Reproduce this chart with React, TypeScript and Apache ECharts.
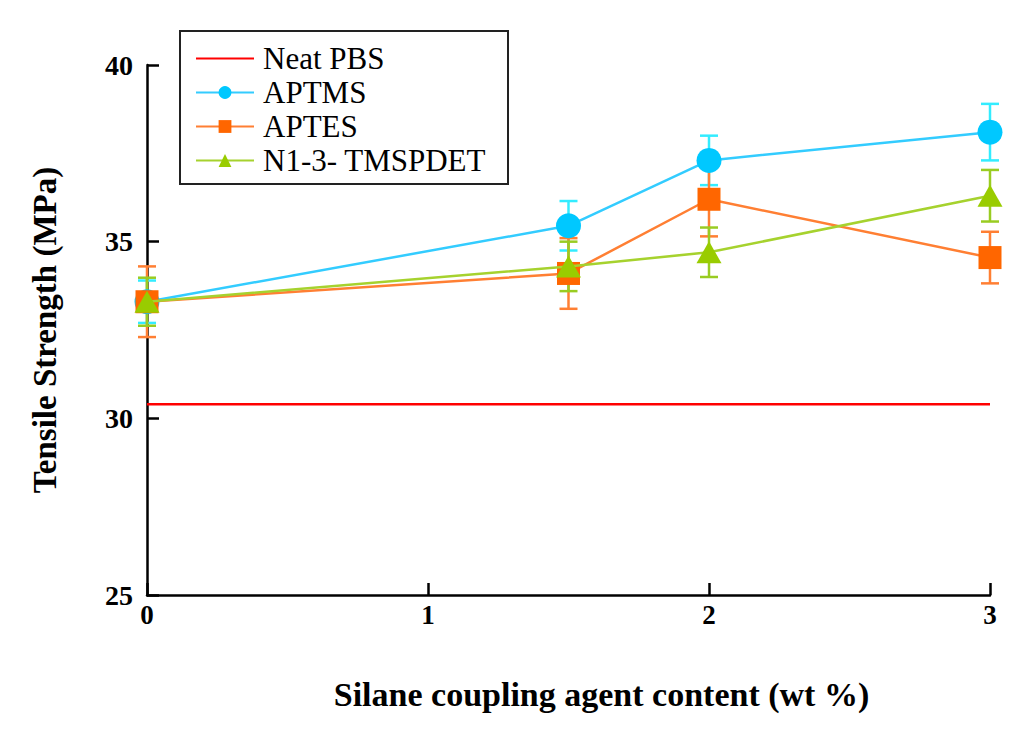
import React, { useEffect, useRef } from "react";
import * as echarts from "echarts";

const xValues = [0, 1.5, 2, 3];
const neatPBSValue = 30.4;
const neatPBSRange = [0, 3];
const aptms = [33.3, 35.45, 37.3, 38.1];
const aptmsErr = [0.6, 0.7, 0.7, 0.8];
const aptes = [33.3, 34.1, 36.2, 34.55];
const aptesErr = [1.0, 1.0, 1.05, 0.73];
const tmspdet = [33.3, 34.3, 34.7, 36.3];
const tmspdetErr = [0.68, 0.7, 0.7, 0.73];
const seriesNames = ["Neat PBS", "APTMS", "APTES", "N1-3- TMSPDET"];
const xTitle = "Silane coupling agent content (wt %)";
const yTitle = "Tensile Strength (MPa)";

const SERIF = "Liberation Serif";

function pairs(vals: number[]) {
  return xValues.map((x, i) => [x, vals[i]]);
}
function errData(vals: number[], errs: number[]) {
  return xValues.map((x, i) => [x, vals[i] - errs[i], vals[i] + errs[i]]);
}

function errSeries(name: string, vals: number[], errs: number[], color: string) {
  return {
    type: "custom",
    name,
    z: 1,
    data: errData(vals, errs),
    encode: { x: 0, y: [1, 2] },
    renderItem: (params: any, api: any) => {
      const x = api.value(0);
      const lo = api.coord([x, api.value(1)]);
      const hi = api.coord([x, api.value(2)]);
      const w = 9;
      const style = { stroke: color, lineWidth: 2.5 };
      return {
        type: "group",
        children: [
          { type: "line", shape: { x1: lo[0], y1: lo[1], x2: hi[0], y2: hi[1] }, style },
          { type: "line", shape: { x1: lo[0] - w, y1: lo[1], x2: lo[0] + w, y2: lo[1] }, style },
          { type: "line", shape: { x1: hi[0] - w, y1: hi[1], x2: hi[0] + w, y2: hi[1] }, style },
        ],
      };
    },
  };
}

export default function App() {
  const ref = useRef<HTMLDivElement>(null);
  useEffect(() => {
    if (!ref.current) return;
    const chart = echarts.init(ref.current, null, { renderer: "svg" });
    chart.setOption({
      animation: false,
      backgroundColor: "#ffffff",
      grid: { left: 147, right: 34, top: 65, bottom: 141 },
      xAxis: {
        type: "value",
        min: 0,
        max: 3,
        interval: 1,
        name: xTitle,
        nameLocation: "middle",
        nameGap: 82,
        nameTextStyle: { fontFamily: SERIF, fontWeight: "bold", fontSize: 34, color: "#000", padding: [0, 0, 0, 66] },
        axisLine: { show: true, lineStyle: { color: "#000", width: 2.5 } },
        axisTick: { show: true, inside: true, length: 12, lineStyle: { color: "#000", width: 2.5 } },
        axisLabel: { fontFamily: SERIF, fontWeight: "bold", fontSize: 27, color: "#000", margin: 6 },
        splitLine: { show: false },
      },
      yAxis: {
        type: "value",
        min: 25,
        max: 40,
        interval: 5,
        name: yTitle,
        nameLocation: "middle",
        nameGap: 86,
        nameTextStyle: { fontFamily: SERIF, fontWeight: "bold", fontSize: 33, color: "#000" },
        axisLine: { show: true, lineStyle: { color: "#000", width: 2.5 } },
        axisTick: { show: true, inside: true, length: 12, lineStyle: { color: "#000", width: 2.5 } },
        axisLabel: { fontFamily: SERIF, fontWeight: "bold", fontSize: 28, color: "#000", margin: 14 },
        splitLine: { show: false },
      },
      legend: {
        orient: "vertical",
        left: 190,
        top: 38,
        itemGap: 3,
        itemWidth: 58,
        itemHeight: 16,
        data: [
          { name: seriesNames[0], itemStyle: { opacity: 0 } },
          seriesNames[1],
          seriesNames[2],
          seriesNames[3],
        ],
        textStyle: { fontFamily: SERIF, fontSize: 31, color: "#000", lineHeight: 30, padding: [0, 0, 0, 4] },
      },
      graphic: [
        {
          type: "rect",
          shape: { x: 180, y: 31, width: 328, height: 153 },
          style: { fill: "none", stroke: "#222", lineWidth: 2 },
          z: 0,
        },
      ],
      series: [
        {
          type: "line",
          name: seriesNames[0],
          data: neatPBSRange.map((x) => [x, neatPBSValue]),
          symbol: "none",
          lineStyle: { color: "#ff0000", width: 2.5 },
          itemStyle: { color: "#ff0000" },
          z: 2,
        },
        errSeries("APTMS err", aptms, aptmsErr, "#33ecff"),
        errSeries("APTES err", aptes, aptesErr, "#ff7f33"),
        errSeries("TMSPDET err", tmspdet, tmspdetErr, "#99cc22"),
        {
          type: "line",
          name: seriesNames[1],
          data: pairs(aptms),
          symbol: "circle",
          symbolSize: 25,
          lineStyle: { color: "#33ccff", width: 2.5 },
          itemStyle: { color: "#00c8ff" },
          z: 3,
        },
        {
          type: "line",
          name: seriesNames[2],
          data: pairs(aptes),
          symbol: "rect",
          symbolSize: 23,
          lineStyle: { color: "#ff7f33", width: 2.5 },
          itemStyle: { color: "#ff6600" },
          z: 4,
        },
        {
          type: "line",
          name: seriesNames[3],
          data: pairs(tmspdet),
          symbol: "triangle",
          symbolSize: [25, 22],
          lineStyle: { color: "#a6d22e", width: 2.5 },
          itemStyle: { color: "#99cc00" },
          z: 5,
        },
      ],
    });
    return () => chart.dispose();
  }, []);
  return (
    <div
      ref={ref}
      style={{ position: "fixed", left: 0, top: 0, width: 1024, height: 736 }}
    />
  );
}
